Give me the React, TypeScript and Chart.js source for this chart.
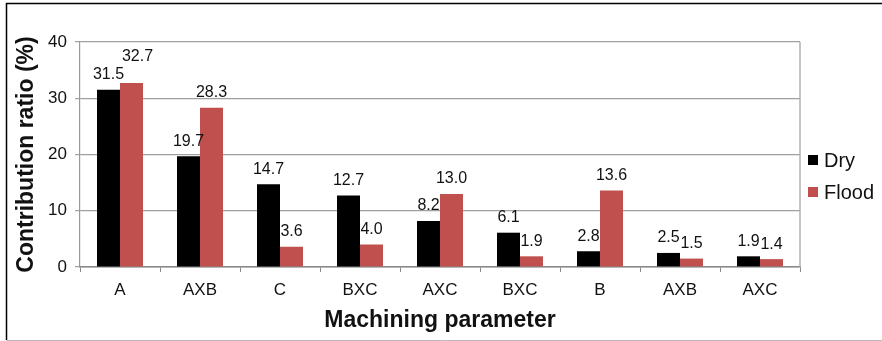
import React, { useEffect, useRef } from "react";
import { Chart, registerables } from "chart.js";

Chart.register(...registerables);

const categories = ["A", "AXB", "C", "BXC", "AXC", "BXC", "B", "AXB", "AXC"];
const dryValues = [31.5, 19.7, 14.7, 12.7, 8.2, 6.1, 2.8, 2.5, 1.9];
const floodValues = [32.7, 28.3, 3.6, 4.0, 13.0, 1.9, 13.6, 1.5, 1.4];
const yTicks = [0, 10, 20, 30, 40];

const FONT = "'Liberation Sans', Arial, Helvetica, sans-serif";

const labelPlugin = {
  id: "barLabels",
  afterDatasetsDraw(chart: any) {
    const ctx = chart.ctx;
    ctx.save();
    ctx.font = `16px ${FONT}`;
    ctx.fillStyle = "#111";
    ctx.textAlign = "center";
    ctx.textBaseline = "middle";
    chart.data.datasets.forEach((ds: any, di: number) => {
      const meta = chart.getDatasetMeta(di);
      meta.data.forEach((bar: any, i: number) => {
        const v = ds.data[i];
        let lift = 15;
        let dx = 0;
        if (di === 1 && i === 0) {
          lift = 26;
          dx = 6;
        }
        ctx.fillText(v.toFixed(1), bar.x + dx, bar.y - lift);
      });
    });
    ctx.restore();
  },
};

const legendPlugin = {
  id: "sideLegend",
  afterDraw(chart: any) {
    const ctx = chart.ctx;
    const a = chart.chartArea;
    ctx.save();
    ctx.font = `20px ${FONT}`;
    ctx.textBaseline = "middle";
    ctx.textAlign = "left";
    chart.data.datasets.forEach((ds: any, i: number) => {
      const cy = 160 + i * 32;
      const bx = a.right + 8;
      ctx.fillStyle = ds.backgroundColor;
      ctx.fillRect(bx, cy - 5, 10, 10);
      ctx.fillStyle = "#111";
      ctx.fillText(ds.label, bx + 16, cy + 1);
    });
    ctx.restore();
  },
};

const framePlugin = {
  id: "frame",
  afterDraw(chart: any) {
    const ctx = chart.ctx;
    const a = chart.chartArea;
    ctx.save();
    ctx.strokeStyle = "#b0b0b0";
    ctx.lineWidth = 1.5;
    ctx.beginPath();
    ctx.moveTo(a.right, a.top);
    ctx.lineTo(a.right, a.bottom);
    ctx.stroke();
    ctx.strokeStyle = "#000";
    ctx.lineWidth = 1.5;
    ctx.beginPath();
    ctx.moveTo(6.5, 340);
    ctx.lineTo(6.5, 3.5);
    ctx.lineTo(882, 3.5);
    ctx.stroke();
    ctx.strokeStyle = "#bbb";
    ctx.lineWidth = 1;
    ctx.beginPath();
    ctx.moveTo(6.5, 340.5);
    ctx.lineTo(882, 340.5);
    ctx.stroke();
    ctx.restore();
  },
};

export default function App() {
  const ref = useRef<HTMLCanvasElement | null>(null);

  useEffect(() => {
    document.body.style.margin = "0";
    const chart = new Chart(ref.current as HTMLCanvasElement, {
      type: "bar",
      data: {
        labels: categories,
        datasets: [
          {
            label: "Dry",
            data: dryValues,
            backgroundColor: "#000000",
            barPercentage: 1,
            categoryPercentage: 0.575,
          },
          {
            label: "Flood",
            data: floodValues,
            backgroundColor: "#c0504d",
            barPercentage: 1,
            categoryPercentage: 0.575,
          },
        ],
      },
      options: {
        animation: false,
        responsive: false,
        maintainAspectRatio: false,
        layout: { padding: { top: 42, right: 82, left: 0, bottom: 0 } },
        plugins: {
          tooltip: { enabled: false },
          legend: { display: false },
        },
        scales: {
          x: {
            afterFit(scale: any) {
              scale.height = 74;
            },
            grid: {
              offset: true,
              drawOnChartArea: false,
              drawTicks: true,
              tickLength: 5,
              color: "#888",
            },
            border: { color: "#888", width: 1.5 },
            ticks: {
              color: "#111",
              padding: 8,
              font: { family: FONT, size: 17 },
            },
            title: {
              display: true,
              text: "Machining parameter",
              color: "#111",
              font: { family: FONT, size: 23, weight: "bold" },
              padding: { top: 4, bottom: 7 },
            },
          },
          y: {
            min: 0,
            max: 40,
            afterFit(scale: any) {
              scale.width = 80;
            },
            afterBuildTicks(scale: any) {
              scale.ticks = yTicks.map((v) => ({ value: v }));
            },
            grid: {
              color: "#a0a0a0",
              lineWidth: 1.2,
              drawTicks: true,
              tickLength: 5,
            },
            border: { color: "#999", width: 1.2 },
            ticks: {
              color: "#111",
              padding: 8,
              font: { family: FONT, size: 17 },
            },
            title: {
              display: true,
              text: "Contribution ratio (%)",
              color: "#111",
              font: { family: FONT, size: 23, weight: "bold" },
              padding: { top: 13, bottom: 0 },
            },
          },
        },
      },
      plugins: [labelPlugin, legendPlugin, framePlugin],
    } as any);
    return () => chart.destroy();
  }, []);

  return <canvas ref={ref} width={882} height={341} style={{ display: "block" }} />;
}
